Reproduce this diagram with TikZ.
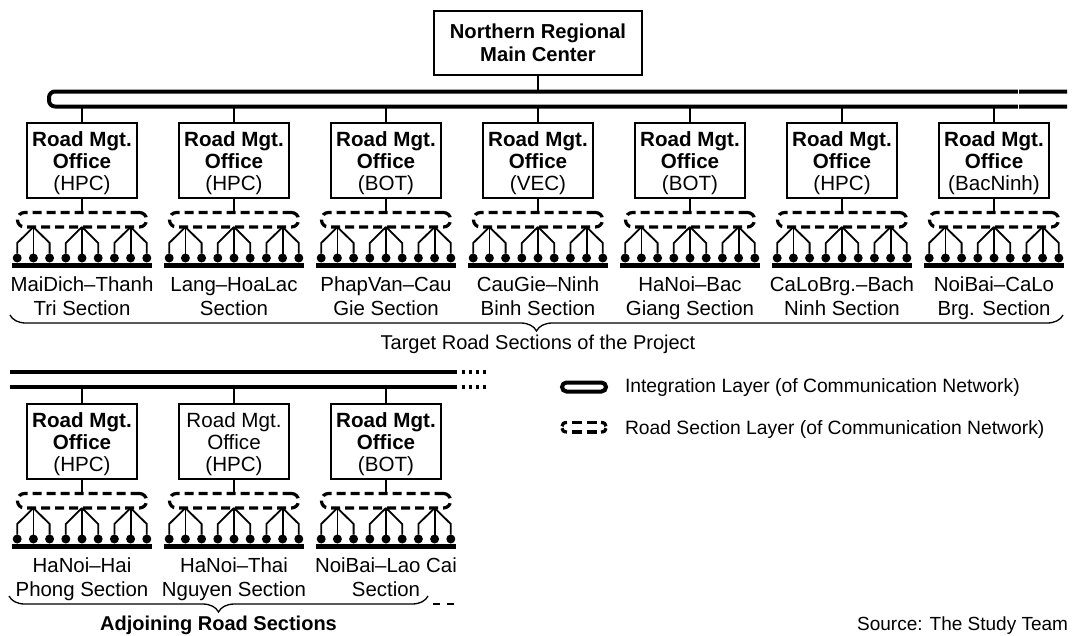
\documentclass[tikz,border=0pt]{standalone}
\usepackage{fontspec}
\setmainfont{Liberation Sans}
\usetikzlibrary{decorations.pathreplacing}
\begin{document}
\begin{tikzpicture}[x=1pt,y=-1pt,
  every node/.style={inner sep=0pt, outer sep=0pt},
  centerbox/.style={draw, line width=1.3pt, minimum width=208pt, minimum height=64pt,
    align=center, font=\bfseries\fontsize{20.2}{23}\selectfont},
  officebox/.style={draw, line width=1.3pt, minimum width=110pt, minimum height=75pt},
  officetext/.style={align=center, font=\fontsize{20.6}{22}\selectfont},
  bus/.style={line width=4pt},
  link/.style={line width=1.6pt},
  layer/.style={draw, line width=3.2pt, dash pattern=on 9pt off 5pt, rounded corners=7pt,
    minimum width=129pt, minimum height=14.5pt},
  fan/.style={line width=1.8pt},
  post/.style={circle, fill, minimum size=9pt},
  roadbar/.style={line width=5pt},
  seclabel/.style={font=\fontsize{20.4}{24}\selectfont, anchor=base},
  groupbrace/.style={decorate, decoration={brace, amplitude=16pt}, line width=1.3pt},
  legendtxt/.style={font=\fontsize{19.3}{22}\selectfont, anchor=base west},
  legdash/.style={line width=3.2pt},
]
\useasboundingbox (0,0) rectangle (1073,635);

% ---------- main center and integration bus ----------
\node[centerbox] (nrmc) at (538,43) {Northern Regional\\Main Center};
\coordinate (busTop) at (1067,91.5);
\coordinate (busBot) at (1067,106.5);
\draw[bus, rounded corners=6pt] (busTop) -- (49,91.5) -- (49,106.5) -- (busBot);
\draw[white, line width=1pt] (1018,88) -- (1018,110);
\draw[link] (nrmc.south) -- (nrmc.south |- busTop);

% ---------- one road section column: office, layer, posts, labels ----------
% #1 name prefix, #2 x, #3 vertical offset, #4 office text, #5 label line 1, #6 label line 2
\newcommand{\roadcolumn}[6]{%
  \node[officebox] (o#1) at (#2,160.5+#3) {};
  \node[officetext] (ot#1) at (#2,163+#3) {#4};
  \node[layer] (l#1) at (#2,219.75+#3) {};
  \draw[link] (o#1.south) -- (l#1.north);
  \foreach \k in {1,...,9} {
    \node[post] (p#1-\k) at ({#2+16.2*(\k-5)},258+#3) {};
  }
  \foreach \j in {2,5,8} {
    \pgfmathtruncatemacro{\jm}{\j-1}
    \pgfmathtruncatemacro{\jp}{\j+1}
    \coordinate (h#1-\j) at ([xshift={16.2*(\j-5)}]l#1.south);
    \draw[fan] (h#1-\j) -- ++(-16.2,16) -- (p#1-\jm);
    \draw[fan] (h#1-\j) -- (p#1-\j);
    \draw[fan] (h#1-\j) -- ++(16.2,16) -- (p#1-\jp);
  }
  \draw[roadbar] (#2-70,265+#3) -- (#2+70,265+#3);
  \node[seclabel] (sa#1) at (#2,291+#3) {#5};
  \node[seclabel] (sb#1) at (#2,315+#3) {#6};
}

% ---------- target road sections ----------
\foreach \i/\c/\op/\la/\lb in {
  1/82/HPC/MaiDich–Thanh/Tri Section,
  2/234/HPC/Lang–HoaLac/Section,
  3/386/BOT/PhapVan–Cau/Gie Section,
  4/538/VEC/CauGie–Ninh/Binh Section,
  5/690/BOT/HaNoi–Bac/Giang Section,
  6/842/HPC/CaLoBrg.–Bach/Ninh Section,
  7/994/BacNinh/NoiBai–CaLo/Brg. Section} {
  \roadcolumn{t\i}{\c}{0}{\textbf{Road Mgt.}\\\textbf{Office}\\(\op)}{\la}{\lb}
  \draw[link] (ot\i.north) -- (ot\i.north |- busBot);
}

\coordinate (tbR) at (1063,315);
\coordinate (tbL) at (10,315);
\draw[groupbrace] (tbR) -- (tbL);
\node[font=\fontsize{20}{24}\selectfont, anchor=base] (ttl) at (538,349) {Target Road Sections of the Project};

% ---------- adjoining road sections ----------
\coordinate (abL1) at (10,372);
\coordinate (abR1) at (457,372);
\coordinate (abL2) at (10,387);
\coordinate (abR2) at (457,387);
\draw[bus] (abL1) -- (abR1);
\draw[bus] (abL2) -- (abR2);
\draw[line width=4pt, dash pattern=on 3pt off 4.3pt] ([xshift=4.5pt]abR1) -- ++(28,0);
\draw[line width=4pt, dash pattern=on 3pt off 4.3pt] ([xshift=4.5pt]abR2) -- ++(28,0);

\roadcolumn{a1}{82}{281}{\textbf{Road Mgt.}\\\textbf{Office}\\(HPC)}{HaNoi–Hai}{Phong Section}
\roadcolumn{a2}{234}{281}{Road Mgt.\\Office\\(HPC)}{HaNoi–Thai}{Nguyen Section}
\roadcolumn{a3}{386}{281}{\textbf{Road Mgt.}\\\textbf{Office}\\(BOT)}{NoiBai–Lao Cai}{Section}
\foreach \i in {a1,a2,a3} {
  \draw[link] (o\i.north) -- (o\i.north |- abR2);
}

\coordinate (abrR) at (428,596);
\coordinate (abrL) at (9,596);
\draw[groupbrace] (abrR) -- (abrL);
\draw[line width=1.3pt, dash pattern=on 7pt off 7pt] (433,604) -- (454,604);
\node[font=\bfseries\fontsize{20}{24}\selectfont, anchor=base] (adj) at (218.5,630) {Adjoining Road Sections};

% ---------- legend ----------
\draw[line width=4pt, rounded corners=4.5pt] (562,382.5) rectangle (606,391.5);
\node[legendtxt] (lg1) at (625,392) {Integration Layer (of Communication Network)};
% dashed symbol: straight dashes plus split round ends
\foreach \y in {422.5,432} {
  \draw[legdash] (571.5,\y) -- (581.5,\y);
  \draw[legdash] (586.5,\y) -- (596.5,\y);
}
\draw[legdash] (567,422.5) .. controls (563.5,422.5) and (562,424) .. (562,426.3);
\draw[legdash] (562,428.2) .. controls (562,430.5) and (563.5,432) .. (567,432);
\draw[legdash] (601,422.5) .. controls (604.5,422.5) and (606,424) .. (606,426.3);
\draw[legdash] (606,428.2) .. controls (606,430.5) and (604.5,432) .. (601,432);
\node[legendtxt] (lg2) at (625,434) {Road Section Layer (of Communication Network)};

% ---------- source ----------
\node[font=\fontsize{19}{22}\selectfont, anchor=base east] (src) at (1068,630.5) {Source: The Study Team};
\end{tikzpicture}
\end{document}
